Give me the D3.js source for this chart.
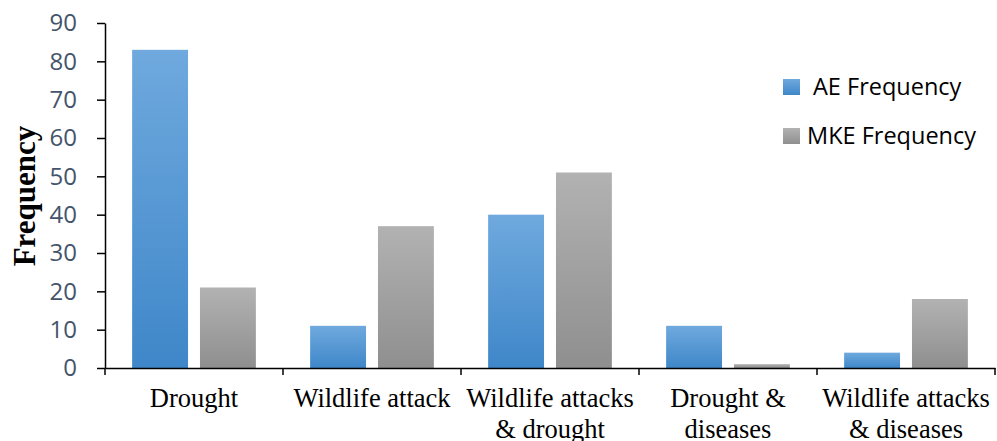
<!DOCTYPE html>
<html><head><meta charset="utf-8">
<script src="https://cdn.jsdelivr.net/npm/d3@7"></script>
<style>body{margin:0;background:#fff}svg{display:block}</style>
</head><body>
<script>
const categories = [["Drought"],["Wildlife attack"],["Wildlife attacks","& drought"],["Drought &","diseases"],["Wildlife attacks","& diseases"]];
const seriesNames = ["AE Frequency","MKE Frequency"];
const aeValues = [83, 11, 40, 11, 4];
const mkeValues = [21, 37, 51, 1, 18];
const yTicks = [0,10,20,30,40,50,60,70,80,90];

const W=997,H=441;
const svg=d3.select("body").append("svg").attr("width",W).attr("height",H);
const defs=svg.append("defs");
function grad(id,top,bot){const g=defs.append("linearGradient").attr("id",id).attr("x1",0).attr("y1",0).attr("x2",0).attr("y2",1);
g.append("stop").attr("offset","0%").attr("stop-color",top);g.append("stop").attr("offset","100%").attr("stop-color",bot);}
grad("gb","#6fa9de","#3f87c9");grad("gg","#b2b2b2","#8f8f8f");
const fills=["url(#gb)","url(#gg)"];

const x0=105,x1=995,yTop=23,yBot=368;
const x=d3.scaleBand().domain(d3.range(categories.length)).range([x0,x1]).paddingInner(0).paddingOuter(0);
const y=d3.scaleLinear().domain([0,90]).range([yBot,yTop]);
const xs=d3.scaleBand().domain([0,1]).range([0,x.bandwidth()]).paddingInner(0.176).paddingOuter(0.4);

const data=categories.map((c,i)=>({i,vals:[aeValues[i],mkeValues[i]]}));
const g=svg.append("g");
g.selectAll("g.cat").data(data).join("g").attr("transform",d=>`translate(${x(d.i)},0)`)
 .selectAll("rect").data(d=>d.vals.map((v,k)=>({v,k}))).join("rect")
 .attr("x",d=>xs(d.k)).attr("width",xs.bandwidth())
 .attr("y",d=>y(d.v)).attr("height",d=>yBot-y(d.v)).attr("fill",d=>fills[d.k]);

// y axis
const ya=svg.append("g").attr("transform",`translate(${x0},0)`).call(d3.axisLeft(y).tickValues(yTicks).tickSize(8).tickPadding(20).tickSizeOuter(0));
ya.select(".domain").attr("stroke","#000").attr("stroke-width",1.5);
ya.selectAll(".tick line").attr("stroke","#000").attr("stroke-width",1.5);
ya.selectAll(".tick text").attr("font-family","Open Sans, Lato, sans-serif").attr("font-size",24).attr("fill","#44546a");

// x axis
const xa=svg.append("g").attr("transform",`translate(0,${yBot})`).call(d3.axisBottom(x).tickValues([]).tickSizeOuter(0));
xa.select(".domain").attr("stroke","#000").attr("stroke-width",1.5);
const bounds=d3.range(categories.length+1).map(i=>x0+i*x.bandwidth());
xa.selectAll("line.b").data(bounds).join("line").attr("x1",d=>d).attr("x2",d=>d).attr("y1",0).attr("y2",7).attr("stroke","#000").attr("stroke-width",1.5);
const lab=svg.append("g").selectAll("text").data(data).join("text")
 .attr("x",d=>x(d.i)+x.bandwidth()/2).attr("y",407).attr("text-anchor","middle")
 .attr("font-family","Liberation Serif, Times New Roman, serif").attr("font-size",26.5).attr("fill","#000");
lab.selectAll("tspan").data(d=>categories[d.i]).join("tspan").attr("x",function(){return d3.select(this.parentNode).attr("x")}).attr("dy",(d,k)=>k?31:0).text(d=>d);

// y label
svg.append("text").attr("transform","translate(35,196) rotate(-90)").attr("text-anchor","middle")
 .attr("font-family","Liberation Serif, Times New Roman, serif").attr("font-weight","bold").attr("font-size",31).text("Frequency");

// legend
const leg=svg.append("g");
const ly=[79,128];
seriesNames.forEach((n,k)=>{
 leg.append("rect").attr("x",783).attr("y",ly[k]).attr("width",17).attr("height",16).attr("fill",fills[k]);
 leg.append("text").attr("x",k?807:813).attr("y",ly[k]+16).attr("font-family","Open Sans, Lato, sans-serif").attr("font-size",23.5).attr("fill","#000").text(n);
});
</script>
</body></html>
